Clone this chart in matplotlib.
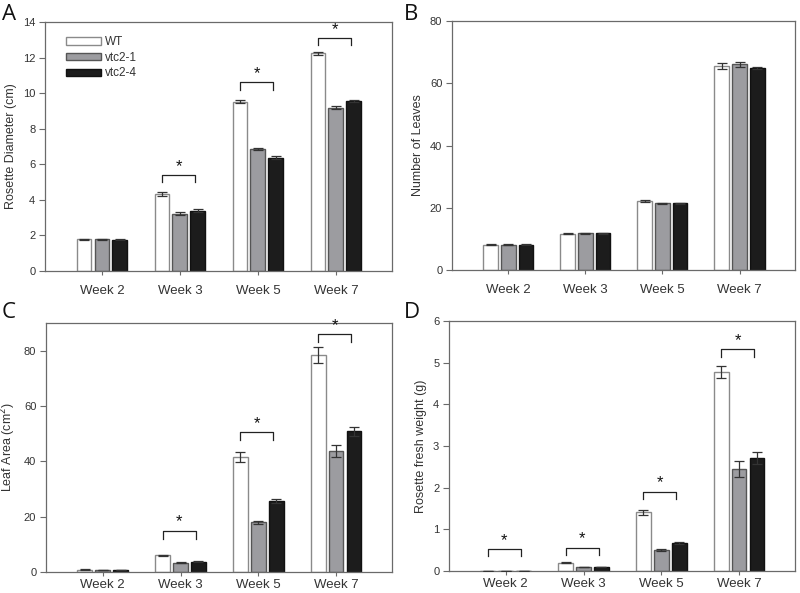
import numpy as np
import matplotlib
matplotlib.use('Agg')
import matplotlib.pyplot as plt
from matplotlib.patches import Patch

plt.rcParams['font.family'] = ['Liberation Sans', 'DejaVu Sans']

weeks = ['Week 2', 'Week 3', 'Week 5', 'Week 7']
genotypes = ['WT', 'vtc2-1', 'vtc2-4']

# Rosette diameter (cm)
diam_wt = [1.78, 4.33, 9.53, 12.25]
diam_v1 = [1.78, 3.21, 6.86, 9.19]
diam_v4 = [1.76, 3.40, 6.36, 9.57]
diam_wt_err = [0.02, 0.10, 0.09, 0.08]
diam_v1_err = [0.02, 0.08, 0.05, 0.08]
diam_v4_err = [0.02, 0.06, 0.09, 0.04]

# Number of leaves
leaves_wt = [8.1, 11.7, 22.1, 65.5]
leaves_v1 = [8.1, 11.8, 21.4, 66.1]
leaves_v4 = [8.1, 11.8, 21.4, 64.9]
leaves_wt_err = [0.1, 0.2, 0.3, 1.0]
leaves_v1_err = [0.1, 0.2, 0.2, 0.8]
leaves_v4_err = [0.1, 0.1, 0.2, 0.3]

# Leaf area (cm2)
area_wt = [0.9, 6.0, 41.5, 78.5]
area_v1 = [0.7, 3.3, 17.9, 43.8]
area_v4 = [0.8, 3.7, 25.6, 50.8]
area_wt_err = [0.1, 0.3, 1.8, 2.9]
area_v1_err = [0.1, 0.2, 0.7, 2.2]
area_v4_err = [0.1, 0.2, 0.7, 1.5]

# Rosette fresh weight (g)
fw_wt = [0.01, 0.20, 1.41, 4.78]
fw_v1 = [0.01, 0.10, 0.51, 2.44]
fw_v4 = [0.01, 0.10, 0.67, 2.71]
fw_wt_err = [0.002, 0.01, 0.06, 0.14]
fw_v1_err = [0.002, 0.005, 0.02, 0.19]
fw_v4_err = [0.002, 0.005, 0.03, 0.15]

# significance brackets: (week index, bracket height, drop height)
diam_sig = [(1, 5.4, 5.03), (2, 10.6, 10.2), (3, 13.1, 12.7)]
area_sig = [(1, 15.0, 12.1), (2, 50.6, 47.8), (3, 86.0, 83.3)]
fw_sig = [(0, 0.53, 0.35), (1, 0.56, 0.38), (2, 1.90, 1.72), (3, 5.33, 5.14)]

bar_colors = ['white', '#9c9ca0', '#1c1c1c']
edge_colors = ['#8a8a8a', '#555555', '#111111']
text_col = '#333333'
axis_col = '#6a6a6a'


def draw_panel(ax, series, errs, ylabel, ylim, yticks, sig, xpad):
    x = np.arange(len(weeks))
    step = 0.23
    width = 0.19
    for i, (vals, err) in enumerate(zip(series, errs)):
        ax.bar(x + (i - 1) * step, vals, width, color=bar_colors[i],
               edgecolor=edge_colors[i], linewidth=1.0, zorder=2)
        ax.errorbar(x + (i - 1) * step, vals, yerr=err, fmt='none',
                    ecolor='#333333', elinewidth=0.9, capsize=3.5,
                    capthick=0.9, zorder=3)
    span = ylim[1] - ylim[0]
    for wk, top, drop in sig:
        x0 = wk - step
        x1 = wk + step * 0.85
        ax.plot([x0, x0, x1, x1], [drop, top, top, drop], color='#222222',
                lw=0.9, zorder=4)
        ax.text((x0 + x1) / 2, top + span * 0.005, '*', ha='center',
                va='bottom', fontsize=12, color='#111111')
    ax.set_xlim(-0.73, 3.72)
    ax.set_ylim(*ylim)
    ax.set_yticks(yticks)
    ax.set_xticks(x)
    ax.set_xticklabels(weeks, fontsize=9.5, color=text_col)
    ax.tick_params(axis='y', labelsize=8, colors=text_col, length=4,
                   width=0.8, color=axis_col, pad=3)
    ax.tick_params(axis='x', length=3, width=0.8, color=axis_col, pad=xpad)
    for sp in ax.spines.values():
        sp.set_color(axis_col)
        sp.set_linewidth(0.9)
    ax.set_ylabel(ylabel, fontsize=9, color=text_col, labelpad=4)
    return ax


fig = plt.figure(figsize=(8, 5.93), dpi=100)
H = 593.0
W = 800.0


def add_axes(l, r, t, b):
    return fig.add_axes([l / W, 1 - b / H, (r - l) / W, (b - t) / H])


axA = add_axes(45, 392, 22, 271)
axB = add_axes(452, 795, 21, 270)
axC = add_axes(46, 392, 323, 572)
axD = add_axes(449, 795, 321, 571)

draw_panel(axA, [diam_wt, diam_v1, diam_v4],
           [diam_wt_err, diam_v1_err, diam_v4_err],
           'Rosette Diameter (cm)', (0, 14), range(0, 15, 2), diam_sig, 7)
draw_panel(axB, [leaves_wt, leaves_v1, leaves_v4],
           [leaves_wt_err, leaves_v1_err, leaves_v4_err],
           'Number of Leaves', (0, 80), range(0, 81, 20), [], 7)
draw_panel(axC, [area_wt, area_v1, area_v4],
           [area_wt_err, area_v1_err, area_v4_err],
           'Leaf Area (cm$^2$)', (0, 90), range(0, 81, 20), area_sig, 2)
draw_panel(axD, [fw_wt, fw_v1, fw_v4],
           [fw_wt_err, fw_v1_err, fw_v4_err],
           'Rosette fresh weight (g)', (0, 6), range(0, 7), fw_sig, 2)

# panel letters
for lx, ly, s in [(2, 14, 'A'), (404, 14, 'B'), (2, 313, 'C'), (404, 313, 'D')]:
    fig.text(lx / W, 1 - ly / H, s, fontsize=16, color='#111111',
             family=['Open Sans', 'DejaVu Sans'], va='center', ha='left')

handles = [Patch(facecolor=bar_colors[i], edgecolor=edge_colors[i], lw=1.0)
           for i in range(3)]
axA.legend(handles, genotypes, loc='upper left', bbox_to_anchor=(0.03, 0.985),
           frameon=False, fontsize=8.5, handlelength=3.0, handleheight=0.6,
           handletextpad=0.3, labelspacing=0.3, labelcolor=text_col)

fig.savefig('out.png', dpi=100)
